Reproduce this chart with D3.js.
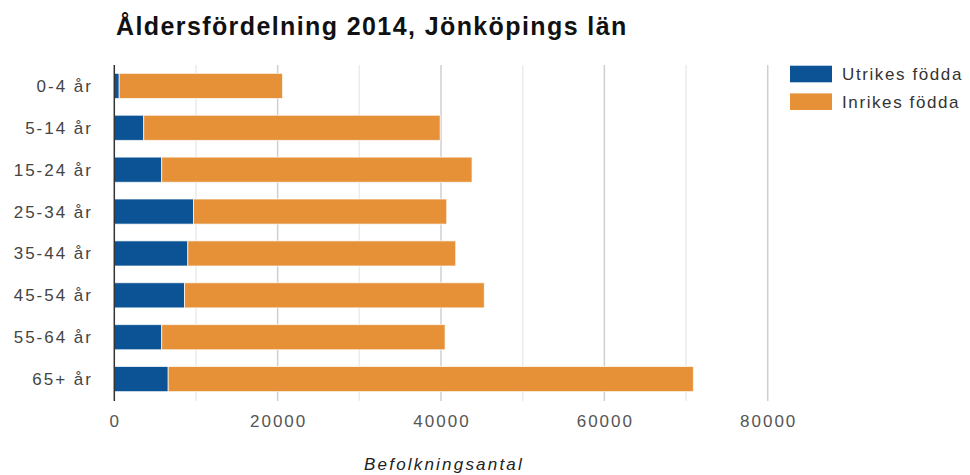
<!DOCTYPE html>
<html>
<head>
<meta charset="utf-8">
<script src="https://cdn.jsdelivr.net/npm/d3@7"></script>
<style>
  html, body { margin: 0; padding: 0; background: #fff; }
  svg { display: block; font-family: "Liberation Sans", Arial, sans-serif; }
</style>
</head>
<body>
<svg id="chart" width="970" height="475"></svg>
<script>
const categories = ["0-4 år", "5-14 år", "15-24 år", "25-34 år", "35-44 år", "45-54 år", "55-64 år", "65+ år"];
const utrikes = [600, 3600, 5800, 9700, 9000, 8600, 5800, 6600];
const inrikes = [20000, 36300, 38000, 31000, 32800, 36700, 34700, 64300];
const seriesNames = ["Utrikes födda", "Inrikes födda"];
const xTicks = [0, 20000, 40000, 60000, 80000];
const minorTicks = [10000, 30000, 50000, 70000];
const titleText = "Åldersfördelning 2014, Jönköpings län";
const axisTitle = "Befolkningsantal";

(function () {
const colors = ["#0b5394", "#e69138"];
const svg = d3.select("#chart");
const pLeft = 114.3, pRight = 767.7, pTop = 65, pBottom = 401;

const x = d3.scaleLinear().domain([0, 80000]).range([pLeft, pRight]);
const y = d3.scaleBand().domain(categories).range([pTop, 400]).paddingInner(0.4).paddingOuter(0.2);

// title
svg.append("text").attr("x", 116).attr("y", 35)
  .attr("font-size", 25).attr("font-weight", "bold").attr("fill", "#111")
  .attr("letter-spacing", 1.4)
  .text(titleText);

// gridlines
svg.append("g").selectAll("line").data(minorTicks).join("line")
  .attr("x1", d => x(d)).attr("x2", d => x(d)).attr("y1", pTop).attr("y2", pBottom)
  .attr("stroke", "#ebebeb").attr("stroke-width", 1.5);
svg.append("g").selectAll("line").data(xTicks.filter(d => d > 0)).join("line")
  .attr("x1", d => x(d)).attr("x2", d => x(d)).attr("y1", pTop).attr("y2", pBottom)
  .attr("stroke", "#cfcfcf").attr("stroke-width", 1.5);

// stacked data
const rows = categories.map((c, i) => ({cat: c, utrikes: utrikes[i], inrikes: inrikes[i]}));
const stack = d3.stack().keys(["utrikes", "inrikes"])(rows);

svg.append("g").selectAll("g").data(stack).join("g")
  .attr("fill", (d, i) => colors[i])
  .selectAll("rect").data(d => d).join("rect")
  .attr("x", d => x(d[0]))
  .attr("y", d => y(d.data.cat))
  .attr("width", d => x(d[1]) - x(d[0]))
  .attr("height", y.bandwidth())
  .attr("stroke", "#ffffff").attr("stroke-opacity", 0.7).attr("stroke-width", 1);

// baseline
svg.append("line").attr("x1", pLeft).attr("x2", pLeft).attr("y1", pTop).attr("y2", pBottom)
  .attr("stroke", "#333").attr("stroke-width", 1.5);

// y labels
const ls = 2;
svg.append("g").selectAll("text").data(categories).join("text")
  .attr("x", 91 + ls).attr("y", d => y(d) + y.bandwidth() / 2 + 6)
  .attr("text-anchor", "end").attr("font-size", 17).attr("letter-spacing", ls)
  .attr("fill", "#444").text(d => d);

// x axis labels
svg.append("g").selectAll("text").data(xTicks).join("text")
  .attr("x", d => x(d) + ls / 2).attr("y", 427)
  .attr("text-anchor", "middle").attr("font-size", 17).attr("letter-spacing", ls)
  .attr("fill", "#555").text(d => d);

// axis title
svg.append("text").attr("x", 444).attr("y", 470)
  .attr("text-anchor", "middle").attr("font-size", 17).attr("font-style", "italic")
  .attr("letter-spacing", 2.2).attr("fill", "#222").text(axisTitle);

// legend
const lg = svg.append("g");
seriesNames.forEach((name, i) => {
  const yy = 65.7 + i * 27.7;
  lg.append("rect").attr("x", 790).attr("y", yy).attr("width", 42).attr("height", 16.6)
    .attr("fill", colors[i]);
  lg.append("text").attr("x", 842).attr("y", yy + 14.5).attr("font-size", 17)
    .attr("letter-spacing", 1.6).attr("fill", "#333").text(name);
});
})();
</script>
</body>
</html>
